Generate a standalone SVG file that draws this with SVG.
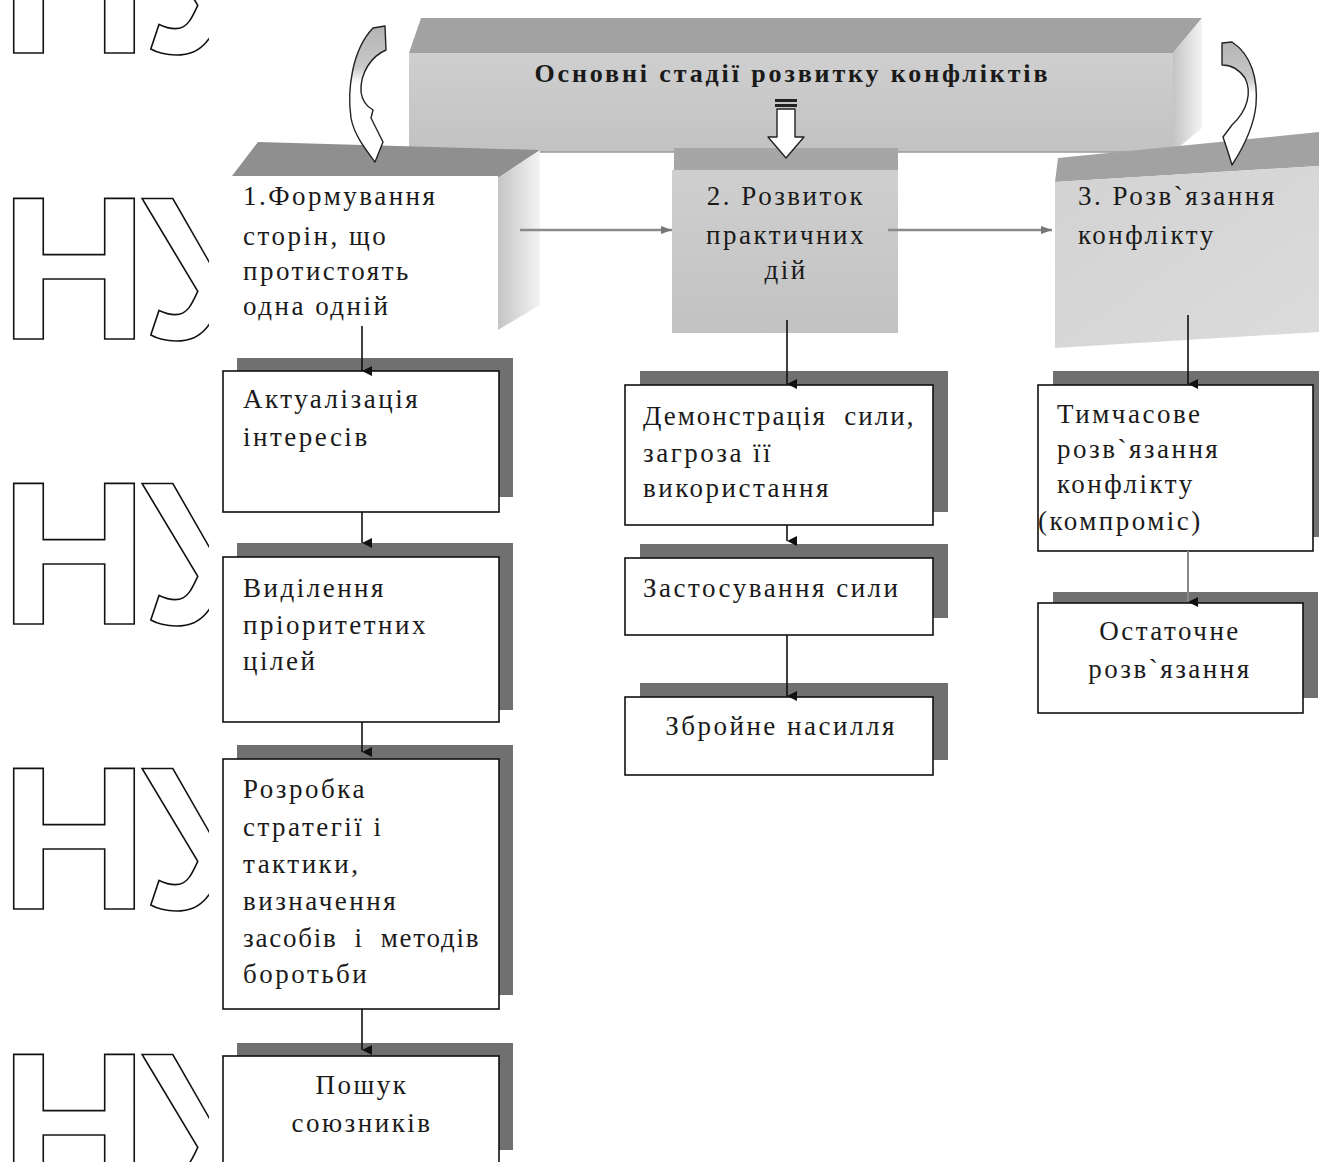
<svg xmlns="http://www.w3.org/2000/svg" width="1319" height="1162" viewBox="0 0 1319 1162">
<style>
.t{font-family:"Liberation Serif","Times New Roman",serif;font-size:27px;letter-spacing:2.5px;fill:#1a1a1a}
.c{text-anchor:middle}
.wm{font-family:"Liberation Sans",Arial,sans-serif;font-weight:bold;font-size:205px;fill:#fff;stroke:#111;stroke-width:1.6;letter-spacing:-6px}
.box{fill:#fff;stroke:#111;stroke-width:1.6}
.sh{fill:#707070}
.ln{stroke:#111;stroke-width:1.6;fill:none}
.gl{stroke:#8a8a8a;stroke-width:2.5;fill:none}
.arr{stroke:#222;stroke-width:1.4;stroke-linejoin:round}
</style>
<defs>
<marker id="ah" markerWidth="11" markerHeight="11" refX="5.5" refY="10" orient="auto" markerUnits="userSpaceOnUse" viewBox="0 0 11 11"><path d="M0.5,0 L10.5,0 L5.5,10 Z" fill="#111"/></marker>
<marker id="ahg" markerWidth="12" markerHeight="10" refX="11" refY="5" orient="auto" markerUnits="userSpaceOnUse" viewBox="0 0 12 10"><path d="M0,1 L11,5 L0,9 Z" fill="#777"/></marker>
<linearGradient id="front" x1="0" y1="0" x2="0" y2="1"><stop offset="0" stop-color="#cfcfcf"/><stop offset="1" stop-color="#c2c2c2"/></linearGradient>
<linearGradient id="front3" x1="0" y1="0" x2="1" y2="1"><stop offset="0" stop-color="#d2d2d2"/><stop offset="1" stop-color="#dcdcdc"/></linearGradient>
<linearGradient id="side" x1="0" y1="0" x2="1" y2="0"><stop offset="0" stop-color="#c4c4c4"/><stop offset="1" stop-color="#f4f4f4"/></linearGradient>
<linearGradient id="arrg" x1="0" y1="0" x2="0" y2="1"><stop offset="0" stop-color="#b4b4b4"/><stop offset="0.3" stop-color="#c8c8c8"/><stop offset="0.42" stop-color="#ffffff"/><stop offset="1" stop-color="#ffffff"/></linearGradient>
<clipPath id="wmclip"><rect x="0" y="0" width="209" height="1162"/></clipPath>
</defs>
<rect width="1319" height="1162" fill="#fff"/>

<g id="watermark" clip-path="url(#wmclip)">
<text class="wm" x="0" y="53">НУ</text>
<text class="wm" x="0" y="339">НУ</text>
<text class="wm" x="0" y="624">НУ</text>
<text class="wm" x="0" y="909">НУ</text>
<text class="wm" x="0" y="1195">НУ</text>
</g>

<g id="title">
<polygon points="409,53 421,18 1202,18 1173,53" fill="#a2a2a2"/>
<polygon points="1173,53 1202,18 1202,128 1173,152" fill="url(#side)"/>
<rect x="409" y="53" width="764" height="99" fill="url(#front)"/>
<line x1="409" y1="152" x2="1173" y2="152" stroke="#9a9a9a" stroke-width="1.5"/>
<text x="791" y="82" text-anchor="middle" font-family="'Liberation Serif','Times New Roman',serif" font-weight="bold" font-size="26" fill="#1a1a1a" textLength="513" lengthAdjust="spacing">Основні стадії розвитку конфліктів</text>
</g>

<g id="stage1">
<polygon points="232,176 258,142 540,150 498,178" fill="#8f8f8f"/>
<polygon points="498,178 540,150 540,305 498,330" fill="url(#side)"/>
<rect x="233" y="176" width="265" height="150" fill="#fff"/>
<text class="t" x="243" y="205">1.Формування</text>
<text class="t" x="243" y="245">сторін, що</text>
<text class="t" x="243" y="280">протистоять</text>
<text class="t" x="243" y="315">одна одній</text>
</g>

<g id="stage2">
<rect x="674" y="148" width="224" height="22" fill="#a6a6a6"/>
<rect x="672" y="170" width="226" height="163" fill="url(#front)"/>
<text class="t c" x="786" y="205">2. Розвиток</text>
<text class="t c" x="786" y="244">практичних</text>
<text class="t c" x="786" y="279">дій</text>
</g>

<g id="stage3">
<polygon points="1058,158 1319,132 1319,166 1055,182" fill="#a2a2a2"/>
<polygon points="1055,182 1319,166 1319,332 1055,348" fill="url(#front3)"/>
<text class="t" x="1078" y="205">3. Розв`язання</text>
<text class="t" x="1078" y="244">конфлікту</text>
</g>

<g id="arrow-left">
<path class="arr" d="M 373 28 L 385 26 L 386 50 C 372 56 360 72 361 92 C 362 100 366 106 373 110 L 371 118 L 383 142 L 375 162 C 366 150 354 135 351 118 C 347 90 352 50 373 28 Z" fill="url(#arrg)"/>
</g>
<g id="arrow-right">
<path class="arr" d="M 1222 43 L 1232 42 C 1252 55 1258 80 1256 105 C 1254 125 1245 145 1232 165 L 1228 152 L 1223 137 L 1232 125 C 1248 110 1252 92 1245 78 C 1238 68 1230 65 1222 65 Z" fill="url(#arrg)"/>
</g>
<g id="arrow-down">
<rect x="775" y="99" width="22" height="3" fill="#222"/>
<rect x="775" y="104" width="22" height="3" fill="#222"/>
<path class="arr" d="M 777 109 L 795 109 L 795 137 L 804 137 L 786 158 L 768 137 L 777 137 Z" fill="#fff"/>
</g>

<g id="n-aktual">
<rect class="sh" x="237" y="358" width="276" height="139"/>
<rect class="box" x="223" y="371" width="276" height="141"/>
<text class="t" x="243" y="408">Актуалізація</text>
<text class="t" x="243" y="446">інтересів</text>
</g>
<g id="n-vydil">
<rect class="sh" x="237" y="543" width="276" height="167"/>
<rect class="box" x="223" y="557" width="276" height="165"/>
<text class="t" x="243" y="597">Виділення</text>
<text class="t" x="243" y="634">пріоритетних</text>
<text class="t" x="243" y="670">цілей</text>
</g>
<g id="n-rozrob">
<rect class="sh" x="237" y="745" width="276" height="250"/>
<rect class="box" x="223" y="759" width="276" height="250"/>
<text class="t" x="243" y="798">Розробка</text>
<text class="t" x="243" y="836">стратегії і</text>
<text class="t" x="243" y="873">тактики,</text>
<text class="t" x="243" y="910">визначення</text>
<text class="t" x="243" y="947" textLength="238" lengthAdjust="spacing" xml:space="preserve">засобів  і  методів</text>
<text class="t" x="243" y="983">боротьби</text>
</g>
<g id="n-poshuk">
<rect class="sh" x="237" y="1043" width="276" height="107"/>
<rect class="box" x="223" y="1056" width="276" height="120"/>
<text class="t c" x="362" y="1094">Пошук</text>
<text class="t c" x="362" y="1132">союзників</text>
</g>

<g id="n-demo">
<rect class="sh" x="640" y="371" width="308" height="141"/>
<rect class="box" x="625" y="385" width="308" height="140"/>
<text class="t" x="643" y="425" textLength="273" lengthAdjust="spacing" xml:space="preserve">Демонстрація  сили,</text>
<text class="t" x="643" y="462">загроза її</text>
<text class="t" x="643" y="497">використання</text>
</g>
<g id="n-zast">
<rect class="sh" x="640" y="544" width="308" height="74"/>
<rect class="box" x="625" y="558" width="308" height="77"/>
<text class="t" x="643" y="597">Застосування сили</text>
</g>
<g id="n-zbroi">
<rect class="sh" x="640" y="683" width="308" height="77"/>
<rect class="box" x="625" y="697" width="308" height="78"/>
<text class="t c" x="781" y="735">Збройне насилля</text>
</g>

<g id="n-tymch">
<rect class="sh" x="1053" y="371" width="280" height="166"/>
<rect class="box" x="1038" y="385" width="275" height="166"/>
<text class="t" x="1057" y="423">Тимчасове</text>
<text class="t" x="1057" y="458">розв`язання</text>
<text class="t" x="1057" y="493">конфлікту</text>
<text class="t" x="1038" y="530">(компроміс)</text>
</g>
<g id="n-ostat">
<rect class="sh" x="1053" y="592" width="265" height="106"/>
<rect class="box" x="1038" y="603" width="265" height="110"/>
<text class="t c" x="1170" y="640">Остаточне</text>
<text class="t c" x="1170" y="678">розв`язання</text>
</g>

<g id="connectors">
<line class="gl" x1="520" y1="230" x2="672" y2="230" marker-end="url(#ahg)"/>
<line class="gl" x1="888" y1="230" x2="1052" y2="230" marker-end="url(#ahg)"/>
<line class="ln" x1="362" y1="326" x2="362" y2="371" marker-end="url(#ah)"/>
<line class="ln" x1="362" y1="512" x2="362" y2="543" marker-end="url(#ah)"/>
<line class="ln" x1="362" y1="722" x2="362" y2="752" marker-end="url(#ah)"/>
<line class="ln" x1="362" y1="1009" x2="362" y2="1050" marker-end="url(#ah)"/>
<line class="ln" x1="787" y1="320" x2="787" y2="384" marker-end="url(#ah)"/>
<line class="ln" x1="787" y1="525" x2="787" y2="541" marker-end="url(#ah)"/>
<line class="ln" x1="787" y1="635" x2="787" y2="696" marker-end="url(#ah)"/>
<line class="ln" x1="1188" y1="315" x2="1188" y2="384" marker-end="url(#ah)"/>
<line x1="1188" y1="551" x2="1188" y2="602" stroke="#888" stroke-width="2" marker-end="url(#ah)"/>
</g>
</svg>
